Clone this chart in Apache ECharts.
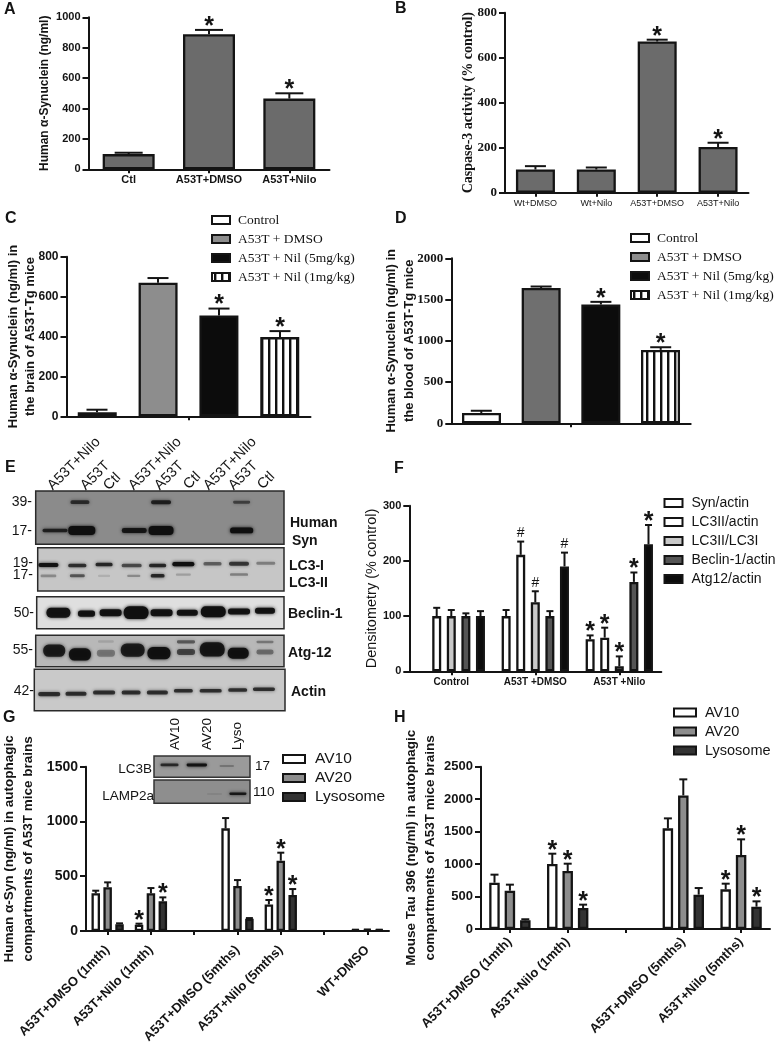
<!DOCTYPE html>
<html><head><meta charset="utf-8">
<style>html,body{margin:0;padding:0;background:#fff}#c{width:776px;height:1045px}</style>
<script src="https://cdn.jsdelivr.net/npm/echarts@6/dist/echarts.min.js"></script>
</head><body><div id="c"></div>
<script>
// ---------- data ----------
const A_categories = ['Ctl','A53T+DMSO','A53T+Nilo'];
const A_values = [100,888,465];
const A_tops = [109,917,500];
const A_marks = ['','*','*'];

const B_categories = ['Wt+DMSO','Wt+Nilo','A53T+DMSO','A53T+Nilo'];
const B_values = [103,103,672,203];
const B_tops = [118,112,680,222];
const B_marks = ['','','*','*'];

const C_names = ['Control','A53T + DMSO','A53T + Nil (5mg/kg)','A53T + Nil (1mg/kg)'];
const C_values = [20,670,505,397];
const C_tops = [33,693,540,427];
const C_marks = ['','','*','*'];

const D_names = ['Control','A53T + DMSO','A53T + Nil (5mg/kg)','A53T + Nil (1mg/kg)'];
const D_values = [125,1640,1440,890];
const D_tops = [152,1658,1472,922];
const D_marks = ['','','*','*'];

const F_categories = ['Control','A53T +DMSO','A53T +Nilo'];
const F_names = ['Syn/actin','LC3II/actin','LC3II/LC3I','Beclin-1/actin','Atg12/actin'];
const F_values = [[null,100,58],[100,211,61],[100,125,9],[100,100,162],[100,190,230]];
const F_tops = [[null,111,65],[115,235,79],[111,145,27],[105,109,179],[109,215,265]];
const F_marks = [['','','*'],['','#','*'],['','#','*'],['','','*'],['','#','*']];

const G_categories = ['A53T+DMSO (1mth)','A53T+Nilo (1mth)','','A53T+DMSO (5mths)','A53T+Nilo (5mths)','','WT+DMSO'];
const G_names = ['AV10','AV20','Lysosome'];
const G_values = [[344,58,null,937,243,null,10],[400,344,null,411,642,null,12],[61,271,null,112,329,null,10]];
const G_tops = [[368,67,null,1031,283,null,12],[444,392,null,465,715,null,14],[70,307,null,118,383,null,12]];
const G_marks = [['','*','','','*','',''],['','','','','*','',''],['','*','','','*','','']];

const H_categories = ['A53T+DMSO (1mth)','A53T+Nilo (1mth)','','A53T+DMSO (5mths)','A53T+Nilo (5mths)'];
const H_names = ['AV10','AV20','Lysosome'];
const H_values = [[713,1001,null,1550,611],[590,893,null,2058,1140],[133,323,null,529,344]];
const H_tops = [[837,1160,null,1704,698],[683,1006,null,2305,1381],[150,375,null,631,426]];
const H_marks = [['','*','','','*'],['','*','','','*'],['','*','','','*']];

// western blot bands: [lane, row (0 top..1 bottom), width in lanes, thickness in panel heights, intensity]
const blotSyn = [[1.95,.21,.72,.07,.7],[5.04,.21,.76,.075,.8],[8.11,.21,.65,.055,.55],[1,.74,.95,.065,.8],[2.02,.74,1.03,.17,1],[4.02,.74,.95,.095,.9],[5.04,.74,.95,.17,1],[8.11,.74,.88,.11,1]];
const blotLC3 = [[.75,.4,.76,.09,.95],[1.85,.41,.69,.08,.75],[2.87,.39,.65,.08,.8],[3.92,.41,.76,.08,.6],[4.91,.41,.65,.08,.8],[5.89,.38,.84,.1,1],[7,.37,.69,.08,.5],[8.01,.37,.76,.09,.7],[9.03,.36,.72,.07,.35],
 [.75,.65,.6,.06,.3],[1.85,.65,.57,.07,.55],[2.87,.65,.46,.05,.12],[4,.65,.5,.05,.3],[4.91,.65,.53,.08,.8],[5.89,.62,.57,.05,.2],[8.01,.62,.69,.06,.35]];
const blotBeclin = [[1.13,.5,.91,.31,.95],[2.2,.53,.65,.19,.95],[3.12,.5,.84,.22,.95],[4.09,.5,.95,.4,.98],[5.06,.5,.84,.22,.95],[6.04,.5,.8,.19,.95],[7.03,.47,.95,.34,.98],[8.01,.46,.84,.19,.95],[9,.44,.76,.19,.95]];
const blotAtg = [[.97,.49,.84,.39,.85],[1.95,.61,.84,.39,.95],[2.94,.57,.69,.22,.35],[2.94,.2,.6,.08,.12],[3.96,.47,.91,.42,.85],[4.96,.57,.88,.39,.95],[5.99,.21,.69,.1,.5],[5.99,.53,.69,.19,.6],[6.99,.45,.95,.45,.9],[7.98,.57,.8,.35,.95],[9,.21,.65,.08,.35],[9,.53,.65,.16,.4]];
const blotActin = [[.78,.6,.84,.1,.75],[1.8,.59,.8,.1,.75],[2.87,.56,.84,.1,.75],[3.9,.56,.72,.1,.75],[4.9,.56,.8,.1,.75],[5.89,.52,.72,.085,.75],[6.93,.52,.84,.085,.75],[7.96,.5,.72,.085,.75],[8.96,.48,.84,.085,.75]];
const insetLC3B = [[1.05,.42,.6,.13,.75],[1.96,.42,.68,.14,.95],[2.96,.47,.48,.1,.25]];
const insetLAMP = [[3.33,.59,.57,.1,.9],[2.55,.6,.5,.06,.1]];

const laneLabels = ['A53T+Nilo','A53T','Ctl','A53T+Nilo','A53T','Ctl','A53T+Nilo','A53T','Ctl'];
const laneLabelAnchors = [[50,488],[83,488],[106,488],[131,488],[157,488],[186,487],[206,488],[231,488],[260,487]];
const insetLanes = ['AV10','AV20','Lyso'];
const insetLaneAnchors = [[175,750],[207,750],[237,750]];
const panelLetters = ['A','B','C','D','E','F','G','H'];
const panelLetterAnchors = [[4,10],[395,9],[5,219],[395,219],[5,468],[394,469],[3,718],[394,718]];
const blotLeftLabels = ['39-','17-','19-','17-','50-','55-','42-','LC3B','LAMP2a'];
const blotLeftAnchors = [[32,502],[32,531],[33,563],[33,575],[34,613],[33,650],[34,691],[152,769],[154,796]];
const blotRightLabels = ['Human','Syn','LC3-I','LC3-II','Beclin-1','Atg-12','Actin'];
const blotRightAnchors = [[290,523],[292,541],[289,566],[289,583],[288,614],[288,653],[291,692]];
const insetRightLabels = ['17','110'];
const insetRightAnchors = [[255,766],[253,792]];

// ---------- styles ----------
const SANS='"Liberation Sans"', SERIF='"Liberation Serif"', INK='#141414';
const stripe=(()=>{const c=document.createElement('canvas');c.width=7;c.height=4;const x=c.getContext('2d');x.fillStyle='#fff';x.fillRect(0,0,7,4);x.fillStyle='#111';x.fillRect(2,0,2.4,4);return {image:c,repeat:'repeat'};})();

const grid=[],xAxis=[],yAxis=[],series=[],legend=[];

function chart(p){
  const g=grid.length;
  grid.push({left:p.rect[0],top:p.rect[1],width:p.rect[2],height:p.rect[3],containLabel:false,outerBoundsMode:'none'});
  xAxis.push({gridIndex:g,type:'category',data:p.cats,boundaryGap:true,
    axisLine:{show:true,lineStyle:{color:INK,width:2}},
    axisTick:{show:true,alignWithLabel:true,interval:0,length:p.tick||4,lineStyle:{color:INK,width:2}},
    axisLabel:Object.assign({show:true,interval:0,color:INK,fontFamily:SANS,fontWeight:'bold',fontSize:11,margin:5,hideOverlap:false},p.xLabel||{}),
    splitLine:{show:false}});
  yAxis.push({gridIndex:g,type:'value',min:0,max:p.max,interval:p.interval,
    name:p.yName,nameLocation:'middle',nameRotate:90,nameGap:p.nameGap,nameMoveOverlap:false,
    nameTextStyle:Object.assign({color:INK,fontFamily:SANS,fontWeight:'bold',fontSize:12},p.nameStyle||{}),
    axisLine:{show:true,lineStyle:{color:INK,width:2}},
    axisTick:{show:true,length:6,lineStyle:{color:INK,width:2}},
    axisLabel:Object.assign({color:INK,fontFamily:SANS,fontWeight:'bold',fontSize:11,margin:8,formatter:v=>String(v)},p.yLabel||{}),
    splitLine:{show:false}});
  const n=p.bars.length;
  p.bars.forEach((b,i)=>{
    series.push({type:'bar',name:b.name,xAxisIndex:g,yAxisIndex:g,data:b.values,barWidth:p.barWidth,barGap:p.barGap,
      itemStyle:{color:b.fill,borderColor:INK,borderWidth:2.3},animation:false,z:3});
    const off=p.slot*(i-(n-1)/2), cap=p.cap;
    series.push({type:'custom',name:'_err'+g+'_'+i,xAxisIndex:g,yAxisIndex:g,z:2,animation:false,silent:true,clip:false,
      encode:{x:0,y:2},
      data:b.values.map((v,k)=>[k,v,b.tops[k]]).filter(d=>d[1]!=null),
      renderItem:(params,api)=>{
        const k=api.value(0),lo=api.coord([k,api.value(1)]),hi=api.coord([k,api.value(2)]);
        const x=lo[0]+off,kids=[
          {type:'line',shape:{x1:x,y1:lo[1],x2:x,y2:hi[1]},style:{stroke:INK,lineWidth:2}},
          {type:'line',shape:{x1:x-cap/2,y1:hi[1],x2:x+cap/2,y2:hi[1]},style:{stroke:INK,lineWidth:2}}];
        const m=b.marks[k];
        if(m==='*')kids.push({type:'text',style:{text:'*',x:x,y:hi[1]-3,align:'center',verticalAlign:'middle',fill:INK,font:'bold 25px '+SANS}});
        if(m==='#')kids.push({type:'text',style:{text:'#',x:x,y:hi[1]-8.5,align:'center',verticalAlign:'middle',fill:INK,font:'14px '+SANS}});
        return {type:'group',children:kids};
      }});
  });
  if(p.legend)legend.push(Object.assign({data:p.bars.map(b=>b.name),orient:'vertical',selectedMode:false,icon:'rect',padding:0,
    inactiveColor:'#fff'},p.legend));
}

function blot(rect,bands,fill,frameColor,laneW,lane1X){
  const g=grid.length;
  grid.push({left:rect[0],top:rect[1],width:rect[2],height:rect[3],show:true,backgroundColor:fill,borderColor:frameColor,borderWidth:1.5,containLabel:false,outerBoundsMode:'none'});
  xAxis.push({gridIndex:g,type:'value',show:false,min:1+(rect[0]-lane1X)/laneW,max:1+(rect[0]+rect[2]-lane1X)/laneW});
  yAxis.push({gridIndex:g,type:'value',show:false,inverse:true,min:0,max:1});
  series.push({type:'custom',name:'_blot'+g,xAxisIndex:g,yAxisIndex:g,clip:true,animation:false,silent:true,encode:{x:0,y:1},data:bands,
    renderItem:(params,api)=>{
      const c=api.coord([api.value(0),api.value(1)]),s=api.size([api.value(2),api.value(3)]),a=api.value(4);
      const col='rgba(15,15,15,'+a+')';
      return {type:'rect',shape:{x:c[0]-s[0]/2,y:c[1]-s[1]/2,width:s[0],height:s[1],r:s[1]*.45},style:{fill:col,shadowBlur:3.5,shadowColor:col}};
    }});
}

// ---------- panels ----------
const BAR_GREY='#6b6b6b';
chart({rect:[88.5,17.3,241,152],cats:A_categories,max:1000,interval:200,yName:'Human \u03b1-Synuclein (ng/ml)',nameGap:38,
  barWidth:52,slot:0,cap:28,
  bars:[{name:'A',values:A_values,tops:A_tops,marks:A_marks,fill:BAR_GREY}]});
chart({rect:[505,12.7,243.5,180],cats:B_categories,max:800,interval:200,yName:'Caspase-3 activity (% control)',nameGap:30,
  nameStyle:{fontFamily:SERIF,fontSize:14},yLabel:{fontFamily:SERIF,fontSize:13},
  xLabel:{fontWeight:'normal',fontSize:9,margin:6},
  barWidth:39,slot:0,cap:21,
  bars:[{name:'B',values:B_values,tops:B_tops,marks:B_marks,fill:BAR_GREY}]});
const cFills=['#ffffff','#8d8d8d','#0c0c0c',stripe], dFills=['#ffffff','#6f6f6f','#0c0c0c',stripe];
chart({rect:[66.5,256.7,244,159.6],cats:[''],max:800,interval:200,yName:'Human \u03b1-Synuclein (ng/ml) in\nthe brain of A53T-Tg mice',nameGap:28,
  nameStyle:{fontSize:13,lineHeight:17},yLabel:{fontSize:12},
  barWidth:39,barGap:'56%',slot:61,cap:21,
  bars:C_names.map((n,i)=>({name:n,values:[C_values[i]],tops:[C_tops[i]],marks:[C_marks[i]],fill:cFills[i]})),
  legend:{left:211,top:213,itemWidth:18,itemHeight:8,itemGap:5,textStyle:{fontFamily:SERIF,fontSize:13.5,color:INK,padding:[0,0,0,3]}}});
chart({rect:[451.3,258.3,239.4,165],cats:[''],max:2000,interval:500,yName:'Human \u03b1-Synuclein (ng/ml) in\nthe blood of A53T-Tg mice',nameGap:33,
  nameStyle:{fontSize:13,lineHeight:18},yLabel:{fontFamily:SERIF,fontSize:13},
  barWidth:39,barGap:'53%',slot:59.8,cap:21,
  bars:D_names.map((n,i)=>({name:n,values:[D_values[i]],tops:[D_tops[i]],marks:[D_marks[i]],fill:dFills[i]})),
  legend:{left:630,top:231,itemWidth:18,itemHeight:8,itemGap:5,textStyle:{fontFamily:SERIF,fontSize:13.5,color:INK,padding:[0,0,0,3]}}});
const fFills=['#ffffff','#ffffff','#c9c9c9','#555555','#0c0c0c'];
chart({rect:[409.3,505.7,252,165.6],cats:F_categories,max:300,interval:100,yName:'Densitometry (% control)',nameGap:30,
  nameStyle:{fontWeight:'normal',fontSize:14.5},xLabel:{fontSize:10,margin:6},
  barWidth:9,barGap:'62%',slot:14.6,cap:7,
  bars:F_names.map((n,i)=>({name:n,values:F_values[i],tops:F_tops[i],marks:F_marks[i],fill:fFills[i]})),
  legend:{left:663.5,top:496,itemWidth:18,itemHeight:8,itemGap:5,textStyle:{fontFamily:SANS,fontSize:14,color:INK,padding:[0,0,0,4]}}});
const ghFills=['#ffffff','#8d8d8d','#333333'];
chart({rect:[86,766.7,303,164.3],cats:G_categories,max:1500,interval:500,yName:'Human \u03b1-Syn (ng/ml) in autophagic\ncompartments of A53T mice brains',nameGap:48,
  nameStyle:{fontSize:13.5,lineHeight:19},yLabel:{fontSize:14},xLabel:{rotate:45,fontSize:13,margin:17},
  barWidth:8.5,barGap:'40%',slot:11.9,cap:7,
  bars:G_names.map((n,i)=>({name:n,values:G_values[i],tops:G_tops[i],marks:G_marks[i],fill:ghFills[i]})),
  legend:{left:282,top:751,itemWidth:22,itemHeight:8,itemGap:3,textStyle:{fontFamily:SANS,fontSize:15.5,color:INK,padding:[0,0,0,5]}}});
chart({rect:[481,766.7,289,162.3],cats:H_categories,max:2500,interval:500,yName:'Mouse Tau 396 (ng/ml) in autophagic\ncompartments of A53T mice brains',nameGap:41,
  nameStyle:{fontSize:13.5,lineHeight:19},yLabel:{fontSize:13},xLabel:{rotate:45,fontSize:13,margin:11,lineHeight:22},
  barWidth:10.5,barGap:'47%',slot:15.4,cap:8,
  bars:H_names.map((n,i)=>({name:n,values:H_values[i],tops:H_tops[i],marks:H_marks[i],fill:ghFills[i]})),
  legend:{left:673,top:705,itemWidth:22,itemHeight:8,itemGap:4,textStyle:{fontFamily:SANS,fontSize:14.5,color:INK,padding:[0,0,0,4]}}});

// blots
blot([35.7,491,248.3,53.3],blotSyn,'#8b8b8b','#2a2a2a',26.25,55);
blot([37.7,547.7,246.3,43.3],blotLC3,'#c6c6c6','#2a2a2a',26.25,55);
blot([36.7,596.7,247.3,32],blotBeclin,'#dfdfdf','#2a2a2a',26.25,55);
blot([35.7,635.3,248.3,31.4],blotAtg,'#b8b8b8','#2a2a2a',26.25,55);
blot([34.3,669.3,250.7,41.4],blotActin,'#c9c9c9','#2a2a2a',26.25,55);
blot([154,756,96,21.3],insetLC3B,'#9a9a9a','#333',30,168);
blot([154,780,96,23.3],insetLAMP,'#8e8e8e','#333',30,168);

// ---------- text ----------
const graphic=[];
const txt=(t,a,font,align,vAlign,rot)=>graphic.push({type:'text',x:a[0],y:a[1],rotation:rot||0,silent:true,style:{text:t,font:font,fill:INK,align:align||'left',verticalAlign:vAlign||'middle'}});
panelLetters.forEach((t,i)=>txt(t,panelLetterAnchors[i],'bold 16px '+SANS));
laneLabels.forEach((t,i)=>txt(t,laneLabelAnchors[i],'14.5px '+SANS,'left','middle',Math.PI/4));
insetLanes.forEach((t,i)=>txt(t,insetLaneAnchors[i],'13.5px '+SANS,'left','middle',Math.PI/2));
blotLeftLabels.forEach((t,i)=>txt(t,blotLeftAnchors[i],(i>6?'13.5px ':'14px ')+SANS,'right'));
blotRightLabels.forEach((t,i)=>txt(t,blotRightAnchors[i],'bold 14px '+SANS));
insetRightLabels.forEach((t,i)=>txt(t,insetRightAnchors[i],'13.5px '+SANS));

const c=echarts.init(document.getElementById('c'),null,{renderer:'canvas'});
c.setOption({animation:false,backgroundColor:'#fff',grid,xAxis,yAxis,series,legend,graphic});
</script></body></html>
